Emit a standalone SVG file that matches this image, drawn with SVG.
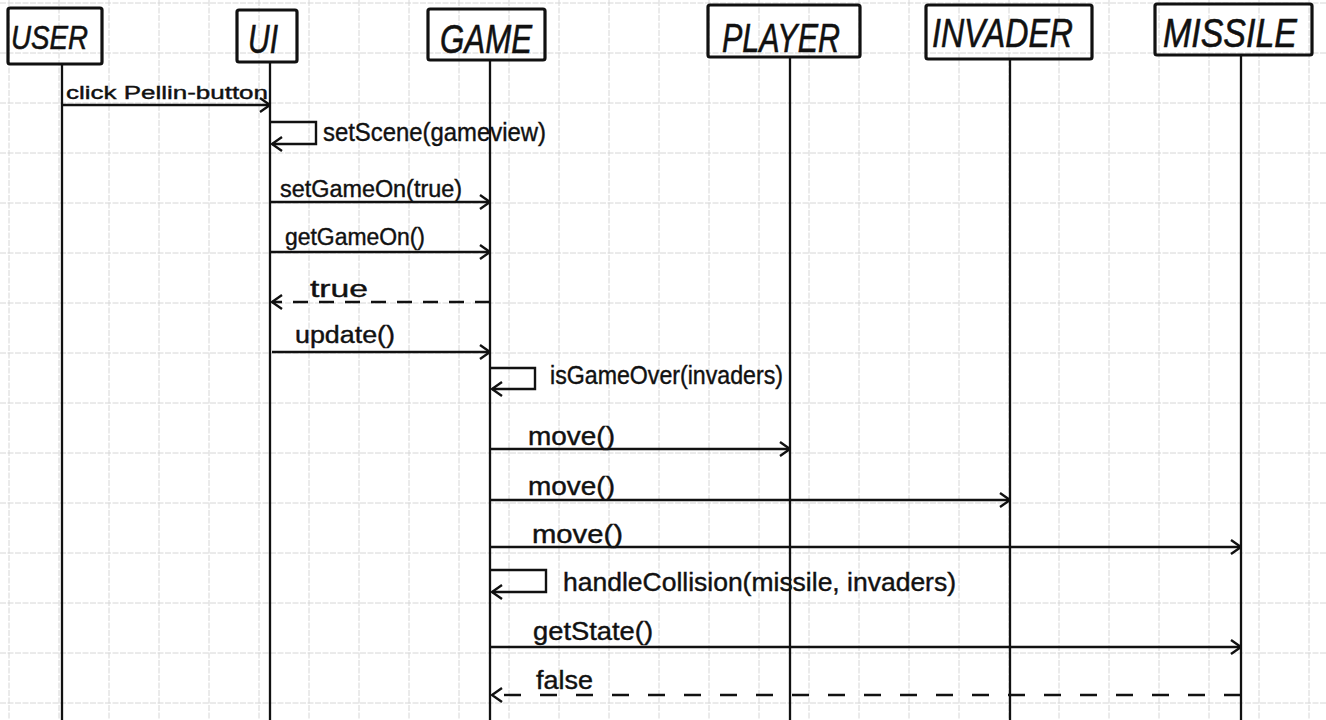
<svg xmlns="http://www.w3.org/2000/svg" width="1326" height="720" viewBox="0 0 1326 720">
<defs>
<style>
.grid line{stroke:#d6d6d6;stroke-width:1;stroke-dasharray:6 1.5}
.box{fill:none;stroke:#111;stroke-width:3.2;stroke-linejoin:round}
.life{stroke:#111;stroke-width:2.3}
.hdr{font-family:"Liberation Sans","DejaVu Sans",sans-serif;font-style:italic;font-size:41px;fill:#111;stroke:#111;stroke-width:0.6}
.lbl{font-family:"Liberation Sans","DejaVu Sans",sans-serif;font-size:23px;fill:#111;stroke:#111;stroke-width:0.4}
.msg{fill:none;stroke:#111;stroke-width:2.4}
.ret{fill:none;stroke:#111;stroke-width:2.4;stroke-dasharray:15 11}
</style>
<marker id="arr" markerUnits="userSpaceOnUse" viewBox="0 0 12 16" markerWidth="12" markerHeight="16" refX="11" refY="8" orient="auto">
<path d="M1,1 L11,8 L1,15" fill="none" stroke="#111" stroke-width="2.4"/>
</marker>
</defs>
<rect width="1326" height="720" fill="#fff"/>
<g class="grid">
<line x1="9" y1="0" x2="9" y2="720"/><line x1="59" y1="0" x2="59" y2="720"/><line x1="109" y1="0" x2="109" y2="720"/><line x1="159" y1="0" x2="159" y2="720"/><line x1="209" y1="0" x2="209" y2="720"/><line x1="259" y1="0" x2="259" y2="720"/><line x1="309" y1="0" x2="309" y2="720"/><line x1="359" y1="0" x2="359" y2="720"/><line x1="409" y1="0" x2="409" y2="720"/><line x1="459" y1="0" x2="459" y2="720"/><line x1="509" y1="0" x2="509" y2="720"/><line x1="559" y1="0" x2="559" y2="720"/><line x1="609" y1="0" x2="609" y2="720"/><line x1="659" y1="0" x2="659" y2="720"/><line x1="709" y1="0" x2="709" y2="720"/><line x1="759" y1="0" x2="759" y2="720"/><line x1="809" y1="0" x2="809" y2="720"/><line x1="859" y1="0" x2="859" y2="720"/><line x1="909" y1="0" x2="909" y2="720"/><line x1="959" y1="0" x2="959" y2="720"/><line x1="1009" y1="0" x2="1009" y2="720"/><line x1="1059" y1="0" x2="1059" y2="720"/><line x1="1109" y1="0" x2="1109" y2="720"/><line x1="1159" y1="0" x2="1159" y2="720"/><line x1="1209" y1="0" x2="1209" y2="720"/><line x1="1259" y1="0" x2="1259" y2="720"/><line x1="1309" y1="0" x2="1309" y2="720"/>
<line x1="0" y1="3" x2="1326" y2="3"/><line x1="0" y1="53" x2="1326" y2="53"/><line x1="0" y1="103" x2="1326" y2="103"/><line x1="0" y1="153" x2="1326" y2="153"/><line x1="0" y1="203" x2="1326" y2="203"/><line x1="0" y1="253" x2="1326" y2="253"/><line x1="0" y1="303" x2="1326" y2="303"/><line x1="0" y1="353" x2="1326" y2="353"/><line x1="0" y1="403" x2="1326" y2="403"/><line x1="0" y1="453" x2="1326" y2="453"/><line x1="0" y1="503" x2="1326" y2="503"/><line x1="0" y1="553" x2="1326" y2="553"/><line x1="0" y1="603" x2="1326" y2="603"/><line x1="0" y1="653" x2="1326" y2="653"/><line x1="0" y1="703" x2="1326" y2="703"/>
</g>
<g id="user">
<rect class="box" x="8" y="8" width="94" height="56" rx="2"/>
<line class="life" x1="62" y1="64" x2="62" y2="720"/>
<text class="hdr" x="11" y="49" textLength="77" lengthAdjust="spacingAndGlyphs" style="font-size:34px">USER</text>
</g>
<g id="ui">
<rect class="box" x="237" y="10" width="60" height="52" rx="2"/>
<line class="life" x1="270" y1="62" x2="270" y2="720"/>
<text class="hdr" x="248" y="53" textLength="30" lengthAdjust="spacingAndGlyphs">UI</text>
</g>
<g id="game">
<rect class="box" x="428" y="9" width="117" height="51" rx="2"/>
<line class="life" x1="490" y1="60" x2="490" y2="720"/>
<text class="hdr" x="440" y="53" textLength="92" lengthAdjust="spacingAndGlyphs">GAME</text>
</g>
<g id="player">
<rect class="box" x="708" y="5" width="152" height="52" rx="2"/>
<line class="life" x1="790" y1="57" x2="790" y2="720"/>
<text class="hdr" x="722" y="52" textLength="118" lengthAdjust="spacingAndGlyphs">PLAYER</text>
</g>
<g id="invader">
<rect class="box" x="926" y="5" width="166" height="54" rx="2"/>
<line class="life" x1="1010" y1="59" x2="1010" y2="720"/>
<text class="hdr" x="932" y="47" textLength="141" lengthAdjust="spacingAndGlyphs">INVADER</text>
</g>
<g id="missile">
<rect class="box" x="1155" y="4" width="157" height="51" rx="2"/>
<line class="life" x1="1241" y1="55" x2="1241" y2="720"/>
<text class="hdr" x="1163" y="47" textLength="134" lengthAdjust="spacingAndGlyphs">MISSILE</text>
</g>
<g id="connectors">
<path class="msg" d="M62,105 H270" marker-end="url(#arr)"/>
<path class="msg" d="M270,122 H316 V144 H272" marker-end="url(#arr)"/>
<path class="msg" d="M270,202 H490" marker-end="url(#arr)"/>
<path class="msg" d="M270,252 H490" marker-end="url(#arr)"/>
<path class="ret" d="M490,302 H272" marker-end="url(#arr)"/>
<path class="msg" d="M272,352 H490" marker-end="url(#arr)"/>
<path class="msg" d="M490,368 H535 V389 H492" marker-end="url(#arr)"/>
<path class="msg" d="M490,449 H790" marker-end="url(#arr)"/>
<path class="msg" d="M490,500 H1010" marker-end="url(#arr)"/>
<path class="msg" d="M490,547 H1241" marker-end="url(#arr)"/>
<path class="msg" d="M490,570 H546 V592 H492" marker-end="url(#arr)"/>
<path class="msg" d="M490,647 H1241" marker-end="url(#arr)"/>
<path class="ret" d="M1241,695 H492" style="stroke-dasharray:17 19" marker-end="url(#arr)"/>
<text class="lbl" x="66" y="99" textLength="202" lengthAdjust="spacingAndGlyphs" style="font-size:18px">click Pellin-button</text>
<text class="lbl" x="323" y="141" textLength="223" lengthAdjust="spacingAndGlyphs" style="font-size:26px">setScene(gameview)</text>
<text class="lbl" x="280" y="197" textLength="182" lengthAdjust="spacingAndGlyphs">setGameOn(true)</text>
<text class="lbl" x="285" y="245" textLength="140" lengthAdjust="spacingAndGlyphs">getGameOn()</text>
<text class="lbl" x="310" y="297" textLength="58" lengthAdjust="spacingAndGlyphs">true</text>
<text class="lbl" x="295" y="343" textLength="100" lengthAdjust="spacingAndGlyphs">update()</text>
<text class="lbl" x="550" y="384" textLength="233" lengthAdjust="spacingAndGlyphs" style="font-size:25px">isGameOver(invaders)</text>
<text class="lbl" x="528" y="445" textLength="87" lengthAdjust="spacingAndGlyphs" style="font-size:25px">move()</text>
<text class="lbl" x="528" y="495" textLength="87" lengthAdjust="spacingAndGlyphs" style="font-size:25px">move()</text>
<text class="lbl" x="532" y="543" textLength="91" lengthAdjust="spacingAndGlyphs" style="font-size:25px">move()</text>
<text class="lbl" x="563" y="591" textLength="393" lengthAdjust="spacingAndGlyphs" style="font-size:25px">handleCollision(missile, invaders)</text>
<text class="lbl" x="533" y="640" textLength="120" lengthAdjust="spacingAndGlyphs" style="font-size:25px">getState()</text>
<text class="lbl" x="536" y="689" textLength="57" lengthAdjust="spacingAndGlyphs" style="font-size:25px">false</text>
</g>
</svg>
